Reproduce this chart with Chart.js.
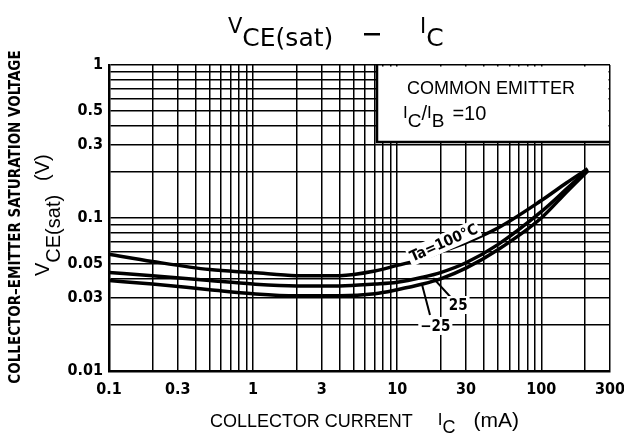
<!DOCTYPE html>
<html>
<head>
<meta charset="utf-8">
<script src="https://cdn.jsdelivr.net/npm/chart.js@4.4.1/dist/chart.umd.min.js"></script>
<style>
  html, body { margin: 0; padding: 0; background: #fff; }
  canvas { display: block; }
</style>
</head>
<body>
<canvas id="myChart" width="624" height="438"></canvas>
<script>
// corriente de colector (mA)
const currentIc = [0.1, 0.2, 0.5, 1, 2, 4, 7, 10, 15, 20, 30, 50, 100, 150, 210];
// Vce(sat) en V para cada temperatura
const vce100 = [0.058, 0.052, 0.046, 0.044, 0.042, 0.042, 0.045, 0.049, 0.054, 0.060, 0.069, 0.086, 0.13, 0.17, 0.21];
const vce25 = [0.044, 0.042, 0.039, 0.037, 0.036, 0.036, 0.037, 0.038, 0.041, 0.044, 0.051, 0.067, 0.11, 0.155, 0.207];
const vceMinus25 = [0.039, 0.037, 0.034, 0.032, 0.031, 0.031, 0.032, 0.034, 0.037, 0.040, 0.047, 0.062, 0.10, 0.148, 0.203];

// etiquetas de los ejes
const xTickLabels = [0.1, 0.3, 1, 3, 10, 30, 100, 300];
const yTickLabels = [0.01, 0.03, 0.05, 0.1, 0.3, 0.5, 1];
const xDecades = [0.1, 1, 10, 100];
const yDecades = [0.01, 0.1, 1];
const gridSteps = [1, 2, 3, 4, 5, 6, 7, 8, 9];

// posicion de las etiquetas de las curvas (mA, V)
const labelTa100 = [21, 0.069];
const label25 = [26.5, 0.027];
const labelMinus25 = [18.4, 0.0197];
const leader25 = [[24.5, 0.0291], [17.8, 0.0405]];
const leaderMinus25 = [[16.9, 0.0232], [14.9, 0.0365]];

// lineas de grilla logaritmica
const xGrid = [];
xDecades.forEach(d => gridSteps.forEach(s => { if (d * s <= 300.0001) xGrid.push(d * s); }));
const yGrid = [];
yDecades.forEach(d => gridSteps.forEach(s => { if (d * s <= 1.0001) yGrid.push(d * s); }));

const findLabel = (list, value) => {
    const hit = list.find(v => Math.abs(v - value) / v < 1e-6);
    return hit === undefined ? '' : String(hit);
};

const toPoints = (ys) => currentIc.map((x, i) => ({ x: x, y: ys[i] }));

const NARROW = "'DejaVu Sans Condensed', 'Liberation Sans Narrow', sans-serif";
const SANS = "'Liberation Sans', Arial, sans-serif";
const ROUND = "'DejaVu Sans', sans-serif";

// dibuja texto con subindices
const drawRich = (ctx, parts, x, y) => {
    let cx = x;
    parts.forEach(p => {
        ctx.font = p.font;
        ctx.fillText(p.t, cx, y + (p.dy || 0));
        cx += ctx.measureText(p.t).width + (p.gap || 0);
    });
};

const textBox = (ctx, text, x, y, font, angle) => {
    ctx.save();
    ctx.translate(x, y);
    ctx.rotate(angle);
    ctx.font = font;
    const w = ctx.measureText(text).width;
    ctx.fillStyle = '#fff';
    ctx.fillRect(-w / 2 - 2, -9, w + 4, 18);
    ctx.fillStyle = '#000';
    ctx.textAlign = 'center';
    ctx.textBaseline = 'middle';
    ctx.fillText(text, 0, 1);
    ctx.restore();
};

const annotations = {
    id: 'annotations',
    afterDraw(chart) {
        const ctx = chart.ctx;
        const xs = chart.scales.x;
        const ys = chart.scales.y;
        const area = chart.chartArea;
        const px = (p) => [xs.getPixelForValue(p[0]), ys.getPixelForValue(p[1])];

        ctx.save();
        ctx.fillStyle = '#000';
        ctx.textBaseline = 'alphabetic';

        // cuadro COMMON EMITTER
        const boxL = area.right - 233;
        const boxB = area.top + 77;
        ctx.fillStyle = '#fff';
        ctx.fillRect(boxL, area.top + 1.5, area.right - boxL - 1.5, boxB - area.top - 1.5);
        ctx.strokeStyle = '#000';
        ctx.lineWidth = 2.5;
        ctx.beginPath();
        ctx.moveTo(boxL, area.top);
        ctx.lineTo(boxL, boxB);
        ctx.lineTo(area.right, boxB);
        ctx.stroke();
        ctx.fillStyle = '#000';
        ctx.font = '18px ' + SANS;
        ctx.fillText('COMMON EMITTER', boxL + 30, area.top + 29);
        drawRich(ctx, [
            { t: 'I', font: '17px ' + SANS, dy: -2 },
            { t: 'C', font: '19px ' + SANS, dy: 7 },
            { t: '/', font: '20px ' + SANS },
            { t: 'I', font: '17px ' + SANS, dy: -2 },
            { t: 'B', font: '19px ' + SANS, dy: 7, gap: 8 },
            { t: '=10', font: '20px ' + SANS }
        ], boxL + 26, area.top + 55);

        // etiquetas de las curvas
        const pTa = px(labelTa100);
        textBox(ctx, 'Ta=100°C', pTa[0], pTa[1], 'bold 15px ' + NARROW, -24 * Math.PI / 180);
        ctx.strokeStyle = '#000';
        ctx.lineWidth = 2;
        [leader25, leaderMinus25].forEach(l => {
            const a = px(l[0]);
            const b = px(l[1]);
            ctx.beginPath();
            ctx.moveTo(a[0], a[1]);
            ctx.lineTo(b[0], b[1]);
            ctx.stroke();
        });
        const p25 = px(label25);
        textBox(ctx, '25', p25[0], p25[1], 'bold 15px ' + NARROW, 0);
        const pm25 = px(labelMinus25);
        textBox(ctx, '\u221225', pm25[0], pm25[1], 'bold 15px ' + NARROW, 0);

        // titulo
        ctx.fillStyle = '#000';
        drawRich(ctx, [
            { t: 'V', font: '21px ' + ROUND, dy: -13 },
            { t: 'CE(sat)', font: '25px ' + ROUND }
        ], 228, 46);
        ctx.fillRect(364, 33, 16, 2.5);
        drawRich(ctx, [
            { t: 'I', font: '21px ' + ROUND, dy: -13 },
            { t: 'C', font: '25px ' + ROUND }
        ], 420, 46);

        // titulo eje X
        drawRich(ctx, [
            { t: 'COLLECTOR CURRENT', font: '18px ' + SANS, gap: 25 },
            { t: 'I', font: '17px ' + SANS, dy: -2 },
            { t: 'C', font: '18px ' + SANS, dy: 6, gap: 18 },
            { t: '(mA)', font: '21px ' + SANS }
        ], 210, 427);

        // titulo eje Y (dos lineas rotadas)
        ctx.save();
        ctx.translate(20, 217);
        ctx.rotate(-Math.PI / 2);
        ctx.font = 'bold 15px ' + NARROW;
        ctx.textAlign = 'center';
        ctx.fillText('COLLECTOR\u2013EMITTER SATURATION VOLTAGE', 0, 0);
        ctx.restore();

        ctx.save();
        ctx.translate(49, 276);
        ctx.rotate(-Math.PI / 2);
        ctx.textAlign = 'left';
        drawRich(ctx, [
            { t: 'V', font: '20px ' + SANS },
            { t: 'CE(sat)', font: '20px ' + SANS, dy: 11, gap: 14 },
            { t: '(V)', font: '20px ' + SANS }
        ], 0, 0);
        ctx.restore();

        ctx.restore();
    }
};

const curveStyle = {
    borderColor: '#000',
    borderWidth: 3.5,
    pointRadius: 0,
    fill: false,
    cubicInterpolationMode: 'monotone'
};

const data = {
    datasets: [
        Object.assign({ label: 'Ta=100°C', data: toPoints(vce100) }, curveStyle),
        Object.assign({ label: '25', data: toPoints(vce25) }, curveStyle),
        Object.assign({ label: '-25', data: toPoints(vceMinus25) }, curveStyle)
    ]
};

const tickFont = { family: NARROW, size: 16, weight: 'bold' };

const config = {
    type: 'line',
    data,
    options: {
        responsive: false,
        animation: false,
        layout: { padding: { top: 65, right: 14, left: 0, bottom: 0 } },
        plugins: { legend: { display: false }, tooltip: { enabled: false } },
        scales: {
            x: {
                type: 'logarithmic',
                min: 0.1,
                max: 300,
                afterBuildTicks: (scale) => { scale.ticks = xGrid.map(v => ({ value: v })); },
                afterFit: (scale) => {
                    scale.height = 67;
                    scale.paddingLeft = 0;
                    scale.paddingRight = 0;
                },
                grid: { color: '#000', lineWidth: 1.5, drawTicks: false },
                border: { display: true, color: '#000', width: 2.5 },
                ticks: {
                    color: '#000',
                    font: tickFont,
                    padding: 9,
                    autoSkip: false,
                    maxRotation: 0,
                    callback: (value) => findLabel(xTickLabels, value)
                }
            },
            y: {
                type: 'logarithmic',
                min: 0.01,
                max: 1,
                afterBuildTicks: (scale) => { scale.ticks = yGrid.map(v => ({ value: v })); },
                afterFit: (scale) => {
                    scale.width = 109;
                    scale.paddingTop = 0;
                    scale.paddingBottom = 0;
                },
                grid: { color: '#000', lineWidth: 1.5, drawTicks: false },
                border: { display: true, color: '#000', width: 2.5 },
                ticks: {
                    color: '#000',
                    font: tickFont,
                    padding: 6,
                    autoSkip: false,
                    callback: (value) => findLabel(yTickLabels, value)
                }
            }
        }
    },
    plugins: [annotations]
};

const myChart = document.getElementById('myChart');
new Chart(myChart, config);
</script>
</body>
</html>
